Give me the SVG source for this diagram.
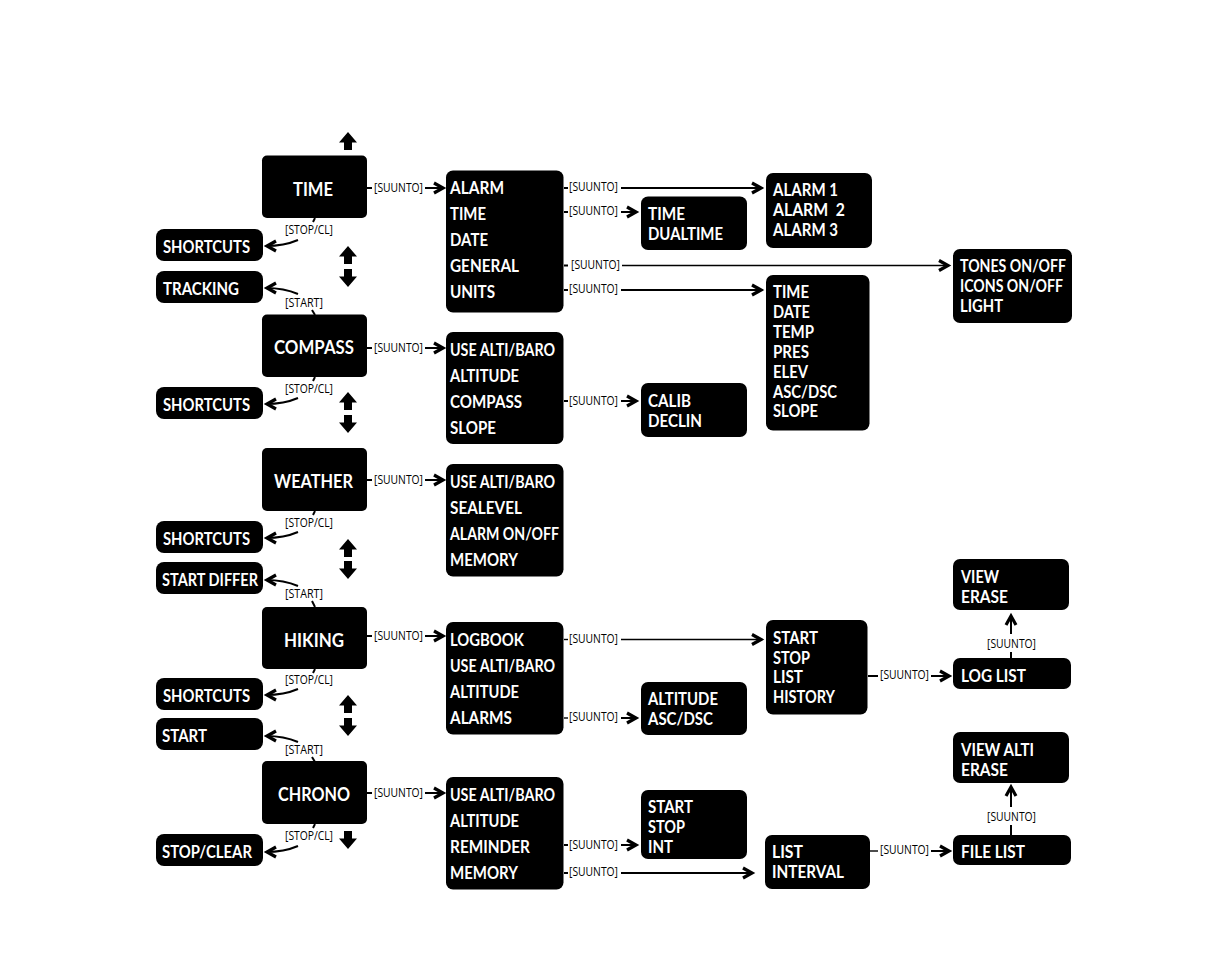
<svg xmlns="http://www.w3.org/2000/svg" width="1206" height="954" viewBox="0 0 1206 954">
<style>
rect{fill:#000}
text{font-family:"Open Sans","Liberation Sans",sans-serif}
.t{font-family:Lato,"Open Sans",sans-serif;font-size:16.6px;font-weight:700;fill:#fff}
.h{font-family:Lato,"Open Sans",sans-serif;font-size:19px;font-weight:700;fill:#fff}
.l{font-size:12.5px;fill:#000}
.c{fill:none;stroke:#000;stroke-width:2}
.m{marker-end:url(#a)}
.n{stroke-width:1.4}
</style>
<defs>
<marker id="a" markerUnits="userSpaceOnUse" markerWidth="16" markerHeight="16" refX="12" refY="8" orient="auto"><path d="M2,3 L11,8 L2,13" fill="none" stroke="#000" stroke-width="3.2"/></marker>
<path id="u" d="M0,0 L9,10.500 L4,10.500 L4,18 L-4,18 L-4,10.500 L-9,10.500Z" fill="#000"/>
<path id="d" d="M0,18 L9,7.500 L4,7.500 L4,0 L-4,0 L-4,7.500 L-9,7.500Z" fill="#000"/>
</defs>
<g id="connectors">
<path class="c" d="M367,188H372"/><path class="c m" d="M425,188H444"/>
<path class="c" d="M367,348H372"/><path class="c m" d="M425,348H444"/>
<path class="c" d="M367,480H372"/><path class="c m" d="M425,480H444"/>
<path class="c" d="M367,636H372"/><path class="c m" d="M425,636H444"/>
<path class="c" d="M367,793H372"/><path class="c m" d="M425,793H444"/>
<path class="c" d="M315,218L313,222"/><path class="c m" d="M298,240Q284,246 266,246"/>
<path class="c" d="M315,377L313,381"/><path class="c m" d="M298,398Q284,404 266,404"/>
<path class="c" d="M315,511L313,515"/><path class="c m" d="M298,532Q284,538 266,538"/>
<path class="c" d="M315,669L313,673"/><path class="c m" d="M298,689Q284,695 266,695"/>
<path class="c" d="M315,824L313,828"/><path class="c m" d="M298,846Q284,852 266,852"/>
<path class="c" d="M312,310L315,315"/><path class="c m" d="M298,294Q284,288 266,288"/>
<path class="c" d="M312,601L315,607"/><path class="c m" d="M298,586Q284,580 266,580"/>
<path class="c" d="M312,757L315,762"/><path class="c m" d="M298,742Q284,736 266,736"/>
<path class="c" d="M564,188H568"/><path class="c m" d="M621,188H762"/>
<path class="c" d="M564,212H568"/><path class="c m" d="M621,212H637"/>
<path class="c" d="M564,265.500H568"/><path class="c n m" d="M622,265.500H949"/>
<path class="c" d="M564,290H568"/><path class="c m" d="M621,290H762"/>
<path class="c" d="M564,401H568"/><path class="c m" d="M621,401H637"/>
<path class="c n" d="M564,639.500H568"/><path class="c n m" d="M621,639.500H762"/>
<path class="c n" d="M564,718H568"/><path class="c m" d="M621,718H637"/>
<path class="c" d="M564,845H568"/><path class="c m" d="M621,845H637"/>
<path class="c" d="M564,873H568"/><path class="c m" d="M621,873H753"/>
<path class="c" d="M868,676H878"/><path class="c m" d="M931,676H950"/>
<path class="c n" d="M870,851H878"/><path class="c m" d="M931,851H950"/>
<path class="c" d="M1011,658V652"/><path class="c m" d="M1011,634V615"/>
<path class="c" d="M1011,835V825"/><path class="c m" d="M1011,807V786"/>
<use href="#u" x="348" y="132"/>
<use href="#u" x="348" y="246"/><use href="#d" x="348" y="269"/>
<use href="#u" x="348" y="392"/><use href="#d" x="348" y="415"/>
<use href="#u" x="348" y="539"/><use href="#d" x="348" y="561"/>
<use href="#u" x="348" y="695"/><use href="#d" x="348" y="718"/>
<use href="#d" x="348" y="831"/>
<text class="l" x="374" y="192" textLength="49" lengthAdjust="spacingAndGlyphs">[SUUNTO]</text>
<text class="l" x="374" y="352" textLength="49" lengthAdjust="spacingAndGlyphs">[SUUNTO]</text>
<text class="l" x="374" y="484" textLength="49" lengthAdjust="spacingAndGlyphs">[SUUNTO]</text>
<text class="l" x="374" y="640" textLength="49" lengthAdjust="spacingAndGlyphs">[SUUNTO]</text>
<text class="l" x="374" y="797" textLength="49" lengthAdjust="spacingAndGlyphs">[SUUNTO]</text>
<text class="l" x="285" y="234" textLength="48" lengthAdjust="spacingAndGlyphs">[STOP/CL]</text>
<text class="l" x="285" y="393" textLength="48" lengthAdjust="spacingAndGlyphs">[STOP/CL]</text>
<text class="l" x="285" y="527" textLength="48" lengthAdjust="spacingAndGlyphs">[STOP/CL]</text>
<text class="l" x="285" y="684" textLength="48" lengthAdjust="spacingAndGlyphs">[STOP/CL]</text>
<text class="l" x="285" y="840" textLength="48" lengthAdjust="spacingAndGlyphs">[STOP/CL]</text>
<text class="l" x="285" y="307" textLength="38" lengthAdjust="spacingAndGlyphs">[START]</text>
<text class="l" x="285" y="598" textLength="38" lengthAdjust="spacingAndGlyphs">[START]</text>
<text class="l" x="285" y="754" textLength="38" lengthAdjust="spacingAndGlyphs">[START]</text>
<text class="l" x="569" y="191" textLength="49" lengthAdjust="spacingAndGlyphs">[SUUNTO]</text>
<text class="l" x="569" y="215" textLength="49" lengthAdjust="spacingAndGlyphs">[SUUNTO]</text>
<text class="l" x="571" y="269" textLength="49" lengthAdjust="spacingAndGlyphs">[SUUNTO]</text>
<text class="l" x="569" y="293" textLength="49" lengthAdjust="spacingAndGlyphs">[SUUNTO]</text>
<text class="l" x="569" y="405" textLength="49" lengthAdjust="spacingAndGlyphs">[SUUNTO]</text>
<text class="l" x="569" y="643" textLength="49" lengthAdjust="spacingAndGlyphs">[SUUNTO]</text>
<text class="l" x="569" y="721" textLength="49" lengthAdjust="spacingAndGlyphs">[SUUNTO]</text>
<text class="l" x="569" y="849" textLength="49" lengthAdjust="spacingAndGlyphs">[SUUNTO]</text>
<text class="l" x="569" y="876" textLength="49" lengthAdjust="spacingAndGlyphs">[SUUNTO]</text>
<text class="l" x="880" y="679" textLength="49" lengthAdjust="spacingAndGlyphs">[SUUNTO]</text>
<text class="l" x="880" y="854" textLength="49" lengthAdjust="spacingAndGlyphs">[SUUNTO]</text>
<text class="l" x="987" y="648" textLength="49" lengthAdjust="spacingAndGlyphs">[SUUNTO]</text>
<text class="l" x="987" y="821" textLength="49" lengthAdjust="spacingAndGlyphs">[SUUNTO]</text>
</g>
<g id="time"><rect x="262" y="155.500" width="105" height="62.500" rx="5"/><text class="h" x="293" y="196" textLength="40" lengthAdjust="spacingAndGlyphs">TIME</text></g>
<g id="compass"><rect x="262" y="314.500" width="105" height="62.500" rx="5"/><text class="h" x="274" y="354" textLength="80" lengthAdjust="spacingAndGlyphs">COMPASS</text></g>
<g id="weather"><rect x="262" y="448" width="105" height="63" rx="5"/><text class="h" x="274" y="488" textLength="79" lengthAdjust="spacingAndGlyphs">WEATHER</text></g>
<g id="hiking"><rect x="262" y="607" width="105" height="62" rx="5"/><text class="h" x="284" y="647" textLength="60" lengthAdjust="spacingAndGlyphs">HIKING</text></g>
<g id="chrono"><rect x="262" y="761" width="105" height="63" rx="5"/><text class="h" x="278" y="801" textLength="72" lengthAdjust="spacingAndGlyphs">CHRONO</text></g>
<g id="shortcuts1"><rect x="156" y="229" width="107" height="32" rx="8"/><text class="t" x="163" y="253" textLength="87" lengthAdjust="spacingAndGlyphs">SHORTCUTS</text></g>
<g id="tracking"><rect x="156" y="271" width="107" height="32" rx="8"/><text class="t" x="163" y="295" textLength="76" lengthAdjust="spacingAndGlyphs">TRACKING</text></g>
<g id="shortcuts2"><rect x="156" y="387" width="107" height="32" rx="8"/><text class="t" x="163" y="411" textLength="87" lengthAdjust="spacingAndGlyphs">SHORTCUTS</text></g>
<g id="shortcuts3"><rect x="156" y="521" width="107" height="32" rx="8"/><text class="t" x="163" y="545" textLength="87" lengthAdjust="spacingAndGlyphs">SHORTCUTS</text></g>
<g id="startdiffer"><rect x="156" y="562" width="107" height="32" rx="8"/><text class="t" x="162" y="586" textLength="96" lengthAdjust="spacingAndGlyphs">START DIFFER</text></g>
<g id="shortcuts4"><rect x="156" y="678" width="107" height="32" rx="8"/><text class="t" x="163" y="702" textLength="87" lengthAdjust="spacingAndGlyphs">SHORTCUTS</text></g>
<g id="start"><rect x="156" y="718" width="107" height="32" rx="8"/><text class="t" x="162" y="742" textLength="45" lengthAdjust="spacingAndGlyphs">START</text></g>
<g id="stopclear"><rect x="156" y="834" width="107" height="32" rx="8"/><text class="t" x="162" y="858" textLength="90" lengthAdjust="spacingAndGlyphs">STOP/CLEAR</text></g>
<g id="timemenu"><rect x="446" y="170.500" width="117.500" height="142" rx="7"/>
<text class="t" x="450" y="194" textLength="54" lengthAdjust="spacingAndGlyphs">ALARM</text>
<text class="t" x="450" y="220" textLength="36" lengthAdjust="spacingAndGlyphs">TIME</text>
<text class="t" x="450" y="246" textLength="38" lengthAdjust="spacingAndGlyphs">DATE</text>
<text class="t" x="450" y="272" textLength="69" lengthAdjust="spacingAndGlyphs">GENERAL</text>
<text class="t" x="450" y="298" textLength="45" lengthAdjust="spacingAndGlyphs">UNITS</text></g>
<g id="compassmenu"><rect x="446" y="332" width="117.500" height="112" rx="7"/>
<text class="t" x="450" y="356" textLength="105" lengthAdjust="spacingAndGlyphs">USE ALTI/BARO</text>
<text class="t" x="450" y="382" textLength="69" lengthAdjust="spacingAndGlyphs">ALTITUDE</text>
<text class="t" x="450" y="408" textLength="72" lengthAdjust="spacingAndGlyphs">COMPASS</text>
<text class="t" x="450" y="434" textLength="46" lengthAdjust="spacingAndGlyphs">SLOPE</text></g>
<g id="weathermenu"><rect x="446" y="464" width="117.500" height="112.500" rx="7"/>
<text class="t" x="450" y="488" textLength="105" lengthAdjust="spacingAndGlyphs">USE ALTI/BARO</text>
<text class="t" x="450" y="514" textLength="72" lengthAdjust="spacingAndGlyphs">SEALEVEL</text>
<text class="t" x="450" y="540" textLength="109" lengthAdjust="spacingAndGlyphs">ALARM ON/OFF</text>
<text class="t" x="450" y="566" textLength="68" lengthAdjust="spacingAndGlyphs">MEMORY</text></g>
<g id="hikingmenu"><rect x="446" y="622" width="117.500" height="112.500" rx="7"/>
<text class="t" x="450" y="646" textLength="74" lengthAdjust="spacingAndGlyphs">LOGBOOK</text>
<text class="t" x="450" y="672" textLength="105" lengthAdjust="spacingAndGlyphs">USE ALTI/BARO</text>
<text class="t" x="450" y="698" textLength="69" lengthAdjust="spacingAndGlyphs">ALTITUDE</text>
<text class="t" x="450" y="724" textLength="62" lengthAdjust="spacingAndGlyphs">ALARMS</text></g>
<g id="chronomenu"><rect x="446" y="777" width="117.500" height="112.500" rx="7"/>
<text class="t" x="450" y="801" textLength="105" lengthAdjust="spacingAndGlyphs">USE ALTI/BARO</text>
<text class="t" x="450" y="827" textLength="69" lengthAdjust="spacingAndGlyphs">ALTITUDE</text>
<text class="t" x="450" y="853" textLength="80" lengthAdjust="spacingAndGlyphs">REMINDER</text>
<text class="t" x="450" y="879" textLength="68" lengthAdjust="spacingAndGlyphs">MEMORY</text></g>
<g id="dualtime"><rect x="641" y="196.500" width="106" height="53.500" rx="7"/>
<text class="t" x="648" y="220" textLength="37" lengthAdjust="spacingAndGlyphs">TIME</text>
<text class="t" x="648" y="240" textLength="75" lengthAdjust="spacingAndGlyphs">DUALTIME</text></g>
<g id="alarms"><rect x="766" y="173" width="106" height="75" rx="7"/>
<text class="t" x="773" y="196" textLength="65" lengthAdjust="spacingAndGlyphs">ALARM 1</text>
<text class="t" x="773" y="216" textLength="72" lengthAdjust="spacingAndGlyphs" xml:space="preserve">ALARM  2</text>
<text class="t" x="773" y="236" textLength="65" lengthAdjust="spacingAndGlyphs">ALARM 3</text></g>
<g id="tones"><rect x="953" y="249" width="119" height="74" rx="7"/>
<text class="t" x="960" y="272" textLength="106" lengthAdjust="spacingAndGlyphs">TONES ON/OFF</text>
<text class="t" x="960" y="292" textLength="103" lengthAdjust="spacingAndGlyphs">ICONS ON/OFF</text>
<text class="t" x="960" y="312" textLength="43" lengthAdjust="spacingAndGlyphs">LIGHT</text></g>
<g id="units"><rect x="766" y="275" width="103.500" height="155.500" rx="7"/>
<text class="t" x="773" y="298" textLength="36" lengthAdjust="spacingAndGlyphs">TIME</text>
<text class="t" x="773" y="318" textLength="37" lengthAdjust="spacingAndGlyphs">DATE</text>
<text class="t" x="773" y="338" textLength="41" lengthAdjust="spacingAndGlyphs">TEMP</text>
<text class="t" x="773" y="358" textLength="36" lengthAdjust="spacingAndGlyphs">PRES</text>
<text class="t" x="773" y="378" textLength="35" lengthAdjust="spacingAndGlyphs">ELEV</text>
<text class="t" x="773" y="398" textLength="64" lengthAdjust="spacingAndGlyphs">ASC/DSC</text>
<text class="t" x="773" y="417" textLength="45" lengthAdjust="spacingAndGlyphs">SLOPE</text></g>
<g id="calib"><rect x="641" y="383" width="106" height="54" rx="7"/>
<text class="t" x="648" y="407" textLength="43" lengthAdjust="spacingAndGlyphs">CALIB</text>
<text class="t" x="648" y="427" textLength="54" lengthAdjust="spacingAndGlyphs">DECLIN</text></g>
<g id="logmenu"><rect x="766" y="620" width="101.500" height="94.500" rx="7"/>
<text class="t" x="773" y="644" textLength="45" lengthAdjust="spacingAndGlyphs">START</text>
<text class="t" x="773" y="664" textLength="37" lengthAdjust="spacingAndGlyphs">STOP</text>
<text class="t" x="773" y="683" textLength="30" lengthAdjust="spacingAndGlyphs">LIST</text>
<text class="t" x="773" y="703" textLength="62" lengthAdjust="spacingAndGlyphs">HISTORY</text></g>
<g id="altalarm"><rect x="641" y="682" width="106" height="53" rx="7"/>
<text class="t" x="648" y="705" textLength="70" lengthAdjust="spacingAndGlyphs">ALTITUDE</text>
<text class="t" x="648" y="725" textLength="65" lengthAdjust="spacingAndGlyphs">ASC/DSC</text></g>
<g id="view"><rect x="953" y="559" width="116" height="51" rx="7"/>
<text class="t" x="961" y="583" textLength="38" lengthAdjust="spacingAndGlyphs">VIEW</text>
<text class="t" x="961" y="603" textLength="47" lengthAdjust="spacingAndGlyphs">ERASE</text></g>
<g id="loglist"><rect x="953" y="658" width="118" height="31" rx="7"/>
<text class="t" x="961" y="682" textLength="65" lengthAdjust="spacingAndGlyphs">LOG LIST</text></g>
<g id="viewalti"><rect x="953" y="732" width="116" height="51" rx="7"/>
<text class="t" x="961" y="756" textLength="73" lengthAdjust="spacingAndGlyphs">VIEW ALTI</text>
<text class="t" x="961" y="776" textLength="47" lengthAdjust="spacingAndGlyphs">ERASE</text></g>
<g id="filelist"><rect x="953" y="835" width="118" height="30" rx="7"/>
<text class="t" x="961" y="858" textLength="64" lengthAdjust="spacingAndGlyphs">FILE LIST</text></g>
<g id="reminder"><rect x="641" y="790" width="106" height="69" rx="7"/>
<text class="t" x="648" y="813" textLength="45" lengthAdjust="spacingAndGlyphs">START</text>
<text class="t" x="648" y="833" textLength="37" lengthAdjust="spacingAndGlyphs">STOP</text>
<text class="t" x="648" y="853" textLength="25" lengthAdjust="spacingAndGlyphs">INT</text></g>
<g id="interval"><rect x="765" y="835" width="105" height="54" rx="7"/>
<text class="t" x="772" y="858" textLength="31" lengthAdjust="spacingAndGlyphs">LIST</text>
<text class="t" x="772" y="878" textLength="72" lengthAdjust="spacingAndGlyphs">INTERVAL</text></g>
</svg>
